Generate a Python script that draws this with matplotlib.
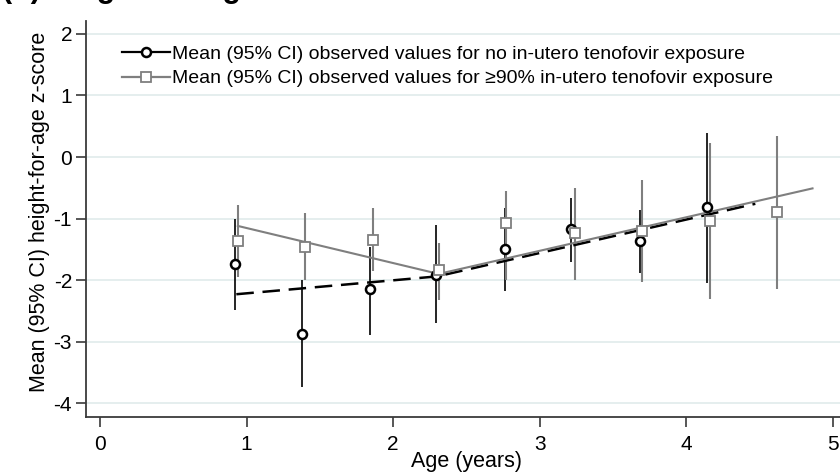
import matplotlib
matplotlib.use('Agg')
import matplotlib.pyplot as plt
from matplotlib.lines import Line2D

plt.rcParams['font.family'] = ['Liberation Sans', 'DejaVu Sans']
plt.rcParams['axes.unicode_minus'] = False

# No in-utero tenofovir exposure (black circles)
black_x = [0.92, 1.38, 1.84, 2.29, 2.76, 3.21, 3.68, 4.14]
black_y = [-1.74, -2.87, -2.15, -1.92, -1.50, -1.17, -1.36, -0.82]
black_lo = [-2.49, -3.73, -2.89, -2.70, -2.17, -1.70, -1.89, -2.04]
black_hi = [-1.00, -2.00, -1.46, -1.10, -0.83, -0.67, -0.86, 0.39]

# >=90% in-utero tenofovir exposure (grey squares)
gray_x = [0.94, 1.40, 1.86, 2.31, 2.77, 3.24, 3.70, 4.16, 4.62]
gray_y = [-1.36, -1.46, -1.35, -1.84, -1.08, -1.23, -1.20, -1.04, -0.90]
gray_lo = [-1.95, -2.00, -1.86, -2.33, -2.00, -2.00, -2.03, -2.31, -2.14]
gray_hi = [-0.78, -0.91, -0.83, -1.40, -0.56, -0.51, -0.37, 0.23, 0.34]

# fitted piecewise-linear curves (knots)
fit_black_x = [0.93, 2.30, 4.47]
fit_black_y = [-2.23, -1.94, -0.76]
fit_gray_x = [0.94, 2.31, 4.86]
fit_gray_y = [-1.12, -1.90, -0.51]

x_ticks = [0, 1, 2, 3, 4, 5]
y_ticks = [-4, -3, -2, -1, 0, 1, 2]

GREY = '#7f7f7f'
GRID = '#e3eded'
SPINE = '#3a3a3a'

fig = plt.figure(figsize=(8.4, 4.73), dpi=100)
ax = fig.add_axes([86 / 840, 1 - 416.7 / 473, 761.7 / 840, (416.7 - 21) / 473])

ax.set_xlim(-0.0955, 5.1)
ax.set_ylim(-4.22, 2.21)

for v in y_ticks:
    ax.axhline(v, color=GRID, lw=1.3, zorder=0)

# error bars
ax.vlines(black_x, black_lo, black_hi, color='black', lw=1.2, zorder=2)
ax.vlines(gray_x, gray_lo, gray_hi, color=GREY, lw=1.5, zorder=3)

# fitted lines
ax.plot(fit_black_x, fit_black_y, color='black', lw=1.8, dashes=(7, 3.5), zorder=4)
ax.plot(fit_gray_x, fit_gray_y, color=GREY, lw=1.5, zorder=5)

# means
ax.plot(black_x, black_y, ls='none', marker='o', ms=6.5, mfc='white', mec='black', mew=1.8, zorder=6)
ax.plot(gray_x, gray_y, ls='none', marker='s', ms=7.5, mfc='white', mec=GREY, mew=1.3, zorder=7)

ax.set_xticks(x_ticks)
ax.set_yticks(y_ticks)
ax.tick_params(axis='both', direction='out', colors=SPINE, labelcolor='black', labelsize=15)
ax.tick_params(axis='x', length=7, width=1.2, pad=6)
ax.tick_params(axis='y', length=7, width=1.2, pad=3)
for s in ['top', 'right']:
    ax.spines[s].set_visible(False)
for s in ['left', 'bottom']:
    ax.spines[s].set_color(SPINE)
    ax.spines[s].set_linewidth(1.3)

ax.set_xlabel('Age (years)', fontsize=15.5)
ax.xaxis.set_label_coords(0.499, -0.086)
ax.set_ylabel('Mean (95% CI) height-for-age z-score', fontsize=15.5)
ax.yaxis.set_label_coords(-0.047, 0.518)

handles = [
    Line2D([], [], color='black', lw=1.6, marker='o', ms=6.5, mfc='white', mec='black', mew=1.8),
    Line2D([], [], color=GREY, lw=1.6, marker='s', ms=7.5, mfc='white', mec=GREY, mew=1.3),
]
labels = [
    'Mean (95% CI) observed values for no in-utero tenofovir exposure',
    'Mean (95% CI) observed values for \u226590% in-utero tenofovir exposure',
]
ax.legend(handles, labels, loc='upper left', bbox_to_anchor=(122 / 840, 1 - 45 / 473),
          bbox_transform=fig.transFigure, frameon=False, fontsize=14.0, borderpad=0,
          borderaxespad=0, handlelength=2.45, handletextpad=0.1, labelspacing=0.37)

# panel title, cut off at the top edge in the original
fig.text(2 / 840, 1 + 2.5 / 473, '(b) Height-for-age', fontsize=22, fontweight='bold',
         ha='left', va='baseline')

fig.savefig('out.png', dpi=100, facecolor='white')
